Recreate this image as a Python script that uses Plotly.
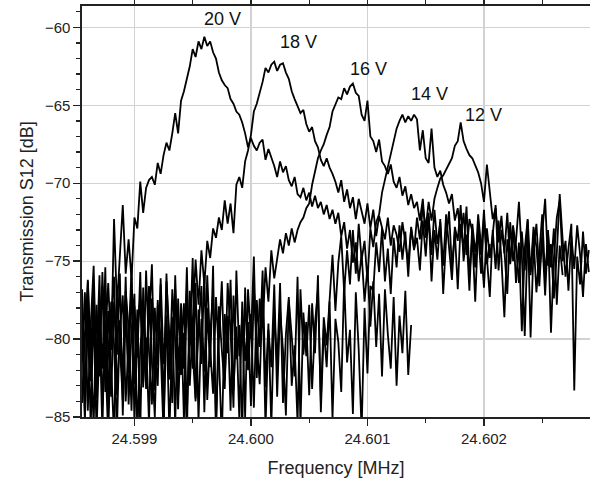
import numpy as np
import plotly.graph_objects as go

# Frequency sweep grid (MHz): start and step of the sampled sweep
F_START = 24.59855
F_STEP = 0.000025

# Transmission S12 [dB] for each bias voltage
y20 = [-76.8, -83.9, -78.5, -85.7, -77.2, -81.6, -75.9, -84.3, -79.8, -76.4,
       -80.7, -72.3, -77.9, -74.6, -71.4,
       -75.8, -73.6, -76.2, -72.2,
       -72.9, -69.9, -71.9,
       -70.3, -69.8, -69.6, -70.1, -68.7, -69.4,
       -68.2, -67.4, -67.9, -66.8, -65.5, -66.8, -64.7, -64.1, -63.3, -62.5,
       -61.4, -61.9, -60.9, -61.4, -60.6, -61.2, -60.9, -61.6, -62.0, -62.9,
       -63.4, -63.7, -63.9, -64.6, -64.9, -65.4, -65.6, -66.1, -66.8, -67.7,
       -67.1, -67.6, -67.9, -67.4, -67.2, -68.5, -67.8, -68.3, -68.9, -69.6,
       -68.6, -69.3, -68.9, -69.8, -70.2, -69.6, -70.7, -70.9, -70.3, -71.1,
       -70.6, -71.5, -70.8, -71.6, -71.2, -72.0, -71.4, -72.3, -71.7,
       -72.6, -71.9, -73.4, -72.5, -74.2, -73.0, -75.1, -73.8, -76.3, -74.5,
       -77.6, -75.4, -79.2, -76.3, -80.5, -77.1, -82.4, -76.8, -79.7, -81.9,
       -77.3, -83.0, -78.5, -80.9, -76.9, -82.3, -79.1]

y18 = [-81.4, -77.0, -84.6, -79.1, -75.3, -82.8, -78.6, -86.0, -76.9, -80.5,
       -83.7, -77.6, -81.0, -75.8, -84.9, -78.3, -82.2, -76.1, -85.4, -79.6,
       -77.3, -83.1, -75.6, -80.8, -84.2, -78.0, -81.7, -76.5, -85.8, -79.0,
       -82.6, -76.8, -80.1, -84.5, -77.7, -81.9, -75.4, -83.0,
       -78.6, -74.9, -77.8, -74.3, -76.5, -73.7,
       -74.8, -72.9, -73.5, -72.2, -73.0, -71.1, -72.6,
       -71.3, -73.2, -70.1, -69.6, -70.3, -68.6, -67.9, -66.9, -65.4, -64.9,
       -64.2, -63.5, -62.6, -62.9, -62.4, -62.2, -62.8, -62.4, -62.3, -62.9,
       -63.3, -64.1, -64.6, -65.0, -65.5, -65.3, -66.2, -66.7, -66.4, -67.3,
       -67.7, -68.5, -68.9, -68.4, -69.0, -69.4,
       -69.9, -70.6, -69.8, -71.2, -70.4, -71.6, -70.9, -72.3, -71.0, -71.8,
       -72.6, -71.3, -72.9, -71.7, -73.4, -72.1, -72.8, -73.6, -72.2, -74.0,
       -72.7, -73.3, -74.4, -72.5, -73.8, -75.1, -72.9, -74.2, -73.5,
       -75.6, -72.4, -74.7, -71.9, -76.3, -73.0, -74.9, -72.3, -77.1, -73.6,
       -71.8, -75.4, -73.1, -76.8, -72.6, -74.3, -71.5, -75.9, -73.4, -77.6,
       -72.8, -74.6, -71.7, -75.2, -73.9]

y16 = [-78.3, -84.8, -76.2, -80.9, -85.5, -77.8, -82.4, -75.7, -81.5, -86.3,
       -78.9, -76.0, -83.6, -79.4, -77.2, -84.0, -80.2, -75.5, -82.9, -78.1,
       -85.9, -76.7, -81.3, -79.0, -75.2, -83.3, -77.5, -80.6, -86.1, -76.3,
       -79.8, -84.1, -75.9, -82.0, -78.4, -85.2, -77.0, -80.4, -74.8, -83.8,
       -79.2, -76.6, -84.7, -78.0, -81.8, -75.3, -86.4, -77.9, -80.7, -83.2,
       -76.4, -79.5, -84.4, -75.6, -81.1, -78.7, -85.0, -76.8, -80.0, -74.7,
       -82.5, -77.4, -79.3,
       -75.4, -77.6, -74.3, -76.1,
       -74.8, -73.6, -74.5, -73.2, -74.0, -72.9, -73.8, -73.0, -72.5, -72.2,
       -71.6, -71.3, -70.1, -69.3, -68.4, -67.9, -67.5, -66.9, -66.4, -65.4,
       -64.9, -64.5, -64.6, -63.9, -64.3, -63.8, -63.6, -64.2, -64.4, -65.6,
       -66.0, -64.7, -67.0, -67.3, -68.0, -67.2, -68.6, -68.9, -69.4, -68.8,
       -69.9, -70.3, -69.6, -70.8, -70.2, -71.4, -70.7, -71.6, -71.2,
       -72.4, -71.0, -73.5, -72.1, -74.6, -71.7, -73.9, -72.5, -75.3, -72.0,
       -74.1, -76.2, -72.8, -73.7, -71.4, -75.0, -73.3, -76.9, -72.6, -74.4,
       -73.1, -75.8, -72.2, -74.7, -77.3, -73.0, -75.5, -72.4, -74.9, -78.6,
       -73.6, -75.1, -72.7, -76.4, -73.8, -79.5, -74.2, -72.3, -75.7, -73.4,
       -77.0, -74.5, -72.0, -76.1, -73.2, -75.4, -72.9, -77.8, -74.0, -75.9]

y14 = [-84.1, -79.6, -76.3, -82.7, -78.8, -85.9, -80.1, -76.6, -83.4, -78.2,
       -81.7, -86.2, -77.1, -80.8, -83.9, -76.9, -79.3, -84.6, -77.9, -81.2,
       -75.7, -82.8, -79.9, -85.4, -77.4, -80.5, -83.0, -76.1, -81.6, -78.5,
       -86.0, -79.7, -76.8, -83.6, -80.3, -77.7, -84.8, -79.1, -81.9, -76.4,
       -85.3, -78.7, -82.1, -75.9, -80.6, -83.5, -77.3, -81.0, -86.5, -78.4,
       -80.9, -76.2, -83.3, -79.2, -85.1, -77.6, -81.4, -78.9, -84.3, -76.7,
       -80.2, -82.9, -77.0, -85.7, -79.4, -81.8, -76.5, -83.7, -78.1, -80.7,
       -84.9, -77.5, -79.8, -82.4, -76.0, -85.6, -78.3, -81.1, -77.8, -83.2,
       -79.0, -76.8, -84.0, -78.6, -80.4,
       -77.3, -74.6, -78.2, -75.1, -73.4, -77.0, -74.3, -76.5, -73.0, -75.8,
       -72.6, -74.9, -73.7, -76.3, -72.9, -74.1, -72.5,
       -72.0, -70.6, -69.8, -68.9, -68.2, -67.3, -66.5, -66.0, -65.6, -66.1,
       -65.7, -66.0, -65.6, -65.9,
       -67.9, -66.6, -68.4, -68.7, -66.5, -69.0, -69.6, -69.2, -70.1, -70.6,
       -71.3, -70.7, -72.4, -71.6, -73.5, -71.9, -74.6, -72.3, -73.1, -75.4,
       -72.0, -74.0, -76.7, -72.9, -74.8, -73.3, -71.4, -75.6, -73.0, -74.3,
       -77.1, -72.5, -75.0, -73.7, -71.2, -74.6, -79.8, -73.4, -75.9, -72.8,
       -74.1, -76.6, -73.2, -71.0, -75.3, -73.9, -77.4, -74.5, -70.7, -73.6,
       -76.0, -74.2, -72.6, -83.3, -74.7, -76.5, -73.1, -75.8, -74.3]

y12 = [-79.2, -85.3, -77.8, -81.4, -76.5, -83.8, -78.0, -81.9, -75.4, -84.5,
       -77.6, -80.3, -85.8, -78.8, -82.5, -76.0, -84.2, -79.5, -77.1, -86.1,
       -80.6, -78.3, -83.2, -76.6, -81.5, -85.0, -77.9, -80.0, -83.7, -75.8,
       -81.2, -78.6, -85.5, -77.4, -82.3, -79.6, -86.3, -76.9, -80.8, -84.0,
       -78.1, -81.6, -75.7, -83.9, -79.8, -77.0, -85.2, -80.1, -76.3, -82.6,
       -78.5, -84.6, -77.2, -81.3, -79.1, -86.0, -76.7, -82.0, -78.4, -84.4,
       -77.5, -80.5, -75.6, -83.1, -79.0, -85.6, -78.2, -81.7, -76.4, -84.1,
       -79.7, -77.3, -83.0, -80.4, -85.4, -76.8, -81.0, -78.9, -83.6, -77.7,
       -80.9, -75.9, -84.7, -79.3, -81.8, -77.6, -85.1, -78.7, -80.2, -83.4,
       -76.2, -81.5, -79.4, -84.8, -77.0, -80.7, -85.9, -78.0, -82.2, -76.6,
       -76.9, -73.8, -75.7, -72.9, -76.3, -74.2, -77.1, -73.5, -75.4, -72.7,
       -74.9, -73.1, -76.0, -72.8,
       -74.3, -72.2, -73.6, -71.5, -72.9, -71.2, -72.4,
       -71.0, -70.3, -69.7, -69.5, -69.1, -68.8, -68.4, -67.6, -67.3, -66.1,
       -67.3, -67.8, -68.2, -68.4, -68.9, -69.3, -70.0, -71.2, -68.8, -70.7,
       -72.3, -71.6, -73.8, -72.1, -74.5, -71.9, -75.2, -72.8, -74.0, -76.4,
       -73.1, -75.6, -72.4, -79.9, -74.3, -72.6, -75.8, -73.5, -77.2, -73.0,
       -79.6, -74.8, -72.2, -71.1, -75.0, -73.7, -76.9, -73.4, -75.5, -72.7,
       -74.6, -77.3, -73.9, -75.7]

SERIES = [("20 V", y20), ("18 V", y18), ("16 V", y16), ("14 V", y14), ("12 V", y12)]

LABELS = ["20 V", "18 V", "16 V", "14 V", "12 V"]
LABEL_X = [24.59976, 24.600407, 24.601007, 24.60153, 24.601993]
LABEL_Y = [-59.44, -60.91, -62.64, -64.28, -65.62]

X_TICKS = [24.599, 24.600, 24.601, 24.602]
X_TICK_TEXT = ["24.599", "24.600", "24.601", "24.602"]
Y_TICKS = [-85, -80, -75, -70, -65, -60]

FONT = "Liberation Sans, Arial, sans-serif"

fig = go.Figure()
for name, ys in SERIES:
    xs = F_START + F_STEP * np.arange(len(ys))
    fig.add_trace(go.Scatter(x=xs, y=ys, mode="lines", name=name,
                             line=dict(color="black", width=1.8),
                             showlegend=False, hoverinfo="skip"))

for t, lx, ly in zip(LABELS, LABEL_X, LABEL_Y):
    fig.add_annotation(x=lx, y=ly, text=t, showarrow=False,
                       font=dict(family=FONT, size=18, color="#111"),
                       xanchor="center", yanchor="middle")

fig.update_layout(
    width=590, height=481,
    margin=dict(l=82, r=0, t=6, b=64, autoexpand=False),
    paper_bgcolor="white", plot_bgcolor="white",
    font=dict(family=FONT, size=15, color="#222"),
    showlegend=False,
)
fig.update_xaxes(
    range=[24.59855, 24.60291], automargin=False,
    tickmode="array", tickvals=X_TICKS, ticktext=X_TICK_TEXT,
    ticks="outside", ticklen=7, tickwidth=1.3, tickcolor="#222",
    showline=True, linecolor="#222", linewidth=1.6, mirror="ticks",
    showgrid=True, gridcolor="#d2d2d2", gridwidth=1.2,
    zeroline=False,
    minor=dict(tickvals=[24.5985, 24.5995, 24.6005, 24.6015, 24.6025],
               ticks="outside", ticklen=4, tickcolor="#222", showgrid=False),
    title=dict(text="Frequency [MHz]", font=dict(family=FONT, size=18, color="#222"), standoff=16),
    tickfont=dict(family=FONT, size=15, color="#222"),
)
fig.update_yaxes(
    range=[-85, -58.63], automargin=False,
    tickmode="array", tickvals=Y_TICKS,
    ticks="outside", ticklen=7, tickwidth=1.3, tickcolor="#222",
    showline=True, linecolor="#222", linewidth=1.6,
    showgrid=True, gridcolor="#d2d2d2", gridwidth=1.2,
    zeroline=False,
    minor=dict(dtick=1, tick0=-85, ticks="outside", ticklen=4, tickcolor="#222", showgrid=False),
    title=dict(text="Transmission S12 [dB]", font=dict(family=FONT, size=18, color="#222"), standoff=6),
    tickfont=dict(family=FONT, size=15, color="#222"),
)

fig.write_html("out.html",
               config={"displayModeBar": False, "staticPlot": True},
               post_script="document.body.style.margin='0px';document.body.style.overflow='hidden';")
